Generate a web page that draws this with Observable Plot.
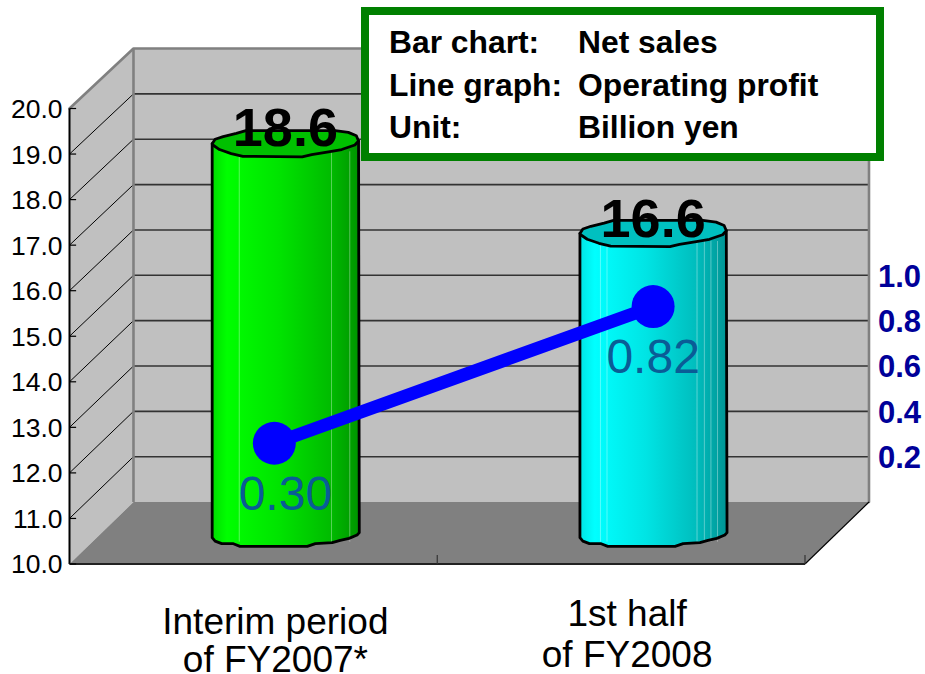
<!DOCTYPE html>
<html>
<head>
<meta charset="utf-8">
<script src="https://cdn.jsdelivr.net/npm/d3@7"></script>
<script src="https://cdn.jsdelivr.net/npm/@observablehq/plot@0.6"></script>
<style>
html,body{margin:0;padding:0;background:#fff}
#wrap{position:relative;width:925px;height:674px;overflow:hidden;font-family:"Liberation Sans",Arial,sans-serif}
#wrap svg{display:block;position:absolute;left:0;top:0;background:transparent}
#legend{position:absolute;left:361px;top:7px;width:523px;height:154px;box-sizing:border-box;border:8px solid #008000;background:#fff;
  font-weight:bold;font-size:31.8px;color:#000}
#legend div{position:absolute;white-space:nowrap;line-height:34px}
</style>
</head>
<body>
<div id="wrap"></div>
<script>
// ---- values
const categories = ["Interim period\nof FY2007*", "1st half\nof FY2008"];
const netSales = [18.6, 16.6];
const operatingProfit = [0.30, 0.82];
const profitLabels = ["0.30", "0.82"];
const salesTicks = [10, 11, 12, 13, 14, 15, 16, 17, 18, 19, 20];
const profitTicks = [0.2, 0.4, 0.6, 0.8, 1.0];
const legendRows = [["Bar chart:", "Net sales"], ["Line graph:", "Operating profit"], ["Unit:", "Billion yen"]];

// ---- layout of the pseudo-3D box, in scale units
const depthX = 0.174;
const depthY = v => 1.36 - 0.0044 * (v - 10);
const midX = depthX / 2, midY = 1.36 / 2;
const barRx = 0.199, capRy = 0.285;
const catX = i => i + 0.5;
// hand-placed shape offsets in the source: right axis and dot positions
const axisProfitY = v => 10 + 5 * v;
const dotProfitY = v => 10.92 + 5.77 * v;
const dotNudge = [-0.03, 0];
const capNudge = [-0.03, 0];

// faceted outline of the cylinder ends (unit ellipse)
const capOutline = [[-1,0.08],[-0.96,-0.26],[-0.85,-0.47],[-0.67,-0.71],[-0.54,-0.92],[0.68,-0.92],[0.86,-0.79],[0.97,-0.53],[1,-0.13],
  [0.95,0.18],[0.77,0.53],[0.59,0.71],[0.36,0.92],[0.23,1.1],[-0.58,1.05],[-0.74,0.84],[-0.9,0.53],[-0.99,0.18],[-1,0.08]];
const baseOutline = [[-1,0.36],[-0.96,0.62],[-0.87,0.82],[-0.71,0.82],[-0.62,1.03],[0.3,1.03],[0.41,0.82],[0.64,0.74],[0.75,0.56],[0.87,0.41],[0.98,0.15],[1.01,-0.03]];
const capLeft = [-1, 0.08], capRight = [1, -0.13];
const facets = [[-0.63,0.63,0.88],[-0.72,-0.63,0.6,0.7,0.79,0.88]];
const bodyFill = ["url(#gGreen)", "url(#gCyan)"];
const capFill = ["#00c000", "#00c0c0"];

const stopsGreen = [[0,"#00dc00"],[0.1,"#00ff00"],[0.45,"#00e400"],[0.8,"#00bc00"],[1,"#009400"]];
const stopsCyan = [[0,"#00e4e4"],[0.1,"#00ffff"],[0.45,"#00e4e4"],[0.8,"#00bcbc"],[1,"#009494"]];

function gradientDefs() {
  const defs = d3.create("svg:defs");
  [["gGreen", stopsGreen], ["gCyan", stopsCyan]].forEach(([id, stops]) => {
    const g = defs.append("linearGradient").attr("id", id).attr("x1", 0).attr("x2", 1).attr("y1", 0).attr("y2", 0);
    stops.forEach(([o, c]) => g.append("stop").attr("offset", o).attr("stop-color", c));
  });
  return defs.node();
}

const cylinderMarks = netSales.flatMap((value, i) => {
  const cx = catX(i) + midX, topY = value + midY + capNudge[i], baseY = 10 + midY;
  const pt = (yc) => ([u, v]) => ({x: cx + u * barRx, y: yc - v * capRy});
  const body = [pt(topY)(capLeft), ...baseOutline.map(pt(baseY)), pt(topY)(capRight)];
  const cap = capOutline.map(pt(topY));
  return [
    Plot.line(body, {x: "x", y: "y", fill: bodyFill[i], stroke: "none"}),
    Plot.ruleX(facets[i], {x: u => cx + u * barRx, y1: baseY - 0.2, y2: topY - 0.2, stroke: "#fff", strokeOpacity: 0.35, strokeWidth: 1}),
    Plot.line(body, {x: "x", y: "y", stroke: "#000", strokeWidth: 2.8, strokeLinejoin: "round"}),
    Plot.line(cap, {x: "x", y: "y", fill: capFill[i], stroke: "#000", strokeWidth: 2.8, strokeLinejoin: "round"})
  ];
});

const profitPts = operatingProfit.map((v, i) => ({x: catX(i) + midX + dotNudge[i], y: dotProfitY(v), label: profitLabels[i], lx: catX(i) + midX}));
const inner = salesTicks.slice(1, -1);
const xy = {x: d => d[0], y: d => d[1]};

const chart = Plot.plot({
  width: 925, height: 674,
  marginTop: 0, marginRight: 0, marginBottom: 0, marginLeft: 0,
  style: {fontFamily: "'Liberation Sans', Arial, sans-serif", background: "transparent", overflow: "visible"},
  x: {domain: [0, 2], range: [69, 804.5], axis: null},
  y: {domain: [10, 20], range: [563.5, 108], axis: null},
  marks: [
    gradientDefs,
    // side wall
    Plot.line([[0,10],[depthX,10+depthY(10)],[depthX,20+depthY(20)],[0,20],[0,10]], {...xy, fill: "#c0c0c0", stroke: "none"}),
    // back wall
    Plot.line([[depthX,10+depthY(10)],[2+depthX,10+depthY(10)],[2+depthX,20+depthY(20)],[depthX,20+depthY(20)],[depthX,10+depthY(10)]], {...xy, fill: "#c0c0c0", stroke: "none"}),
    // grid
    Plot.link(inner, {x1: 0, y1: v => v, x2: depthX, y2: v => v + depthY(v), stroke: "#000", strokeWidth: 1}),
    Plot.link(inner, {x1: depthX, y1: v => v + depthY(v), x2: 2 + depthX, y2: v => v + depthY(v), stroke: "#333", strokeWidth: 1.6}),
    // wall edges
    Plot.line([[0,20],[depthX,20+depthY(20)],[2+depthX,20+depthY(20)],[2+depthX,10+depthY(10)]], {...xy, stroke: "#808080", strokeWidth: 2.6}),
    Plot.link([0], {x1: depthX, y1: 10 + depthY(10), x2: depthX, y2: 20 + depthY(20), stroke: "#808080", strokeWidth: 2.6}),
    // floor
    Plot.line([[0,10],[depthX,10+depthY(10)],[2+depthX,10+depthY(10)],[2,10],[0,10]], {...xy, fill: "#808080", stroke: "none"}),
    Plot.link([0], {x1: 2, y1: 10, x2: 2 + depthX, y2: 10 + depthY(10), stroke: "#000", strokeWidth: 1.2}),
    // axes
    Plot.link([0], {x1: 0, y1: 10, x2: 0, y2: 20, stroke: "#000", strokeWidth: 2}),
    Plot.link([0], {x1: 0, y1: 10, x2: 2, y2: 10, stroke: "#222", strokeWidth: 2}),
    Plot.link(salesTicks, {x1: 0, x2: 0.018, y1: v => v, y2: v => v, stroke: "#000", strokeWidth: 1.2}),
    Plot.link([1, 2], {x1: v => v, x2: v => v, y1: 10, y2: 10.2, stroke: "#333", strokeWidth: 1.2}),
    // cylinders
    ...cylinderMarks,
    // tick labels
    Plot.text(salesTicks, {x: 0, y: v => v, text: v => v.toFixed(1), dx: -7, dy: 1, textAnchor: "end", fontSize: 26.5, fill: "#000"}),
    Plot.text(profitTicks, {x: 2 + depthX, y: v => axisProfitY(v) + depthY(axisProfitY(v)), text: v => v.toFixed(1), dx: 9, dy: 1.5, textAnchor: "start", fontSize: 31, fontWeight: "bold", fill: "#000099"}),
    // category labels
    Plot.text(categories.slice(0, 1), {x: catX(0), y: 10, text: d => d, dy: 77, dx: 22, fontSize: 37, lineHeight: 1.03, fill: "#000"}),
    Plot.text(categories.slice(1), {x: catX(1), y: 10, text: d => d, dy: 69, dx: 6, fontSize: 37, lineHeight: 1.11, fill: "#000"}),
    // sales values
    Plot.text(netSales, {x: (d, i) => catX(i) + midX, y: d => d + midY, text: d => d.toFixed(1), dy: -13, fontSize: 54, fontWeight: "bold", fill: "#000"}),
    // profit line
    Plot.line(profitPts, {x: "x", y: "y", stroke: "#0000ff", strokeWidth: 13}),
    Plot.dot(profitPts, {x: "x", y: "y", r: 21.5, fill: "#0000ff", stroke: "none"}),
    Plot.text(profitPts, {x: "lx", y: "y", text: "label", dy: 51, fontSize: 48, fill: "#0a5c96"})
  ]
});

const wrap = document.getElementById("wrap");
wrap.appendChild(chart);

const legend = document.createElement("div");
legend.id = "legend";
legendRows.forEach(([a, b], i) => {
  const top = 10 + i * 42.5;
  const l = document.createElement("div"); l.textContent = a; l.style.left = "20px"; l.style.top = top + "px";
  const r = document.createElement("div"); r.textContent = b; r.style.left = "209px"; r.style.top = top + "px";
  legend.append(l, r);
});
wrap.appendChild(legend);
</script>
</body>
</html>
